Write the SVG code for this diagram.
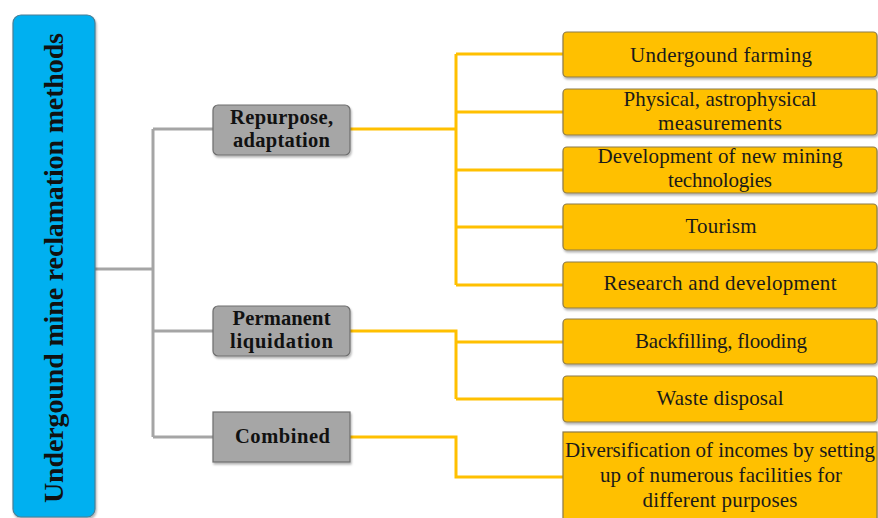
<svg xmlns="http://www.w3.org/2000/svg" width="878" height="518" viewBox="0 0 878 518">
<defs>
<filter id="sh" x="-10%" y="-10%" width="130%" height="140%">
<feDropShadow dx="1" dy="2" stdDeviation="1.2" flood-color="#000" flood-opacity="0.3"/>
</filter>
<style>
.yb{fill:#FFC000;stroke:#8C7A4A;stroke-width:1.2;filter:url(#sh)}
.gb{fill:#A6A6A6;stroke:#6E6E6E;stroke-width:1.2;filter:url(#sh)}
.bb{fill:#00B0F0;stroke:#4A7F96;stroke-width:1.2;filter:url(#sh)}
.yt{font-family:"Liberation Serif","Times New Roman",serif;font-size:21px;fill:#1a1a1a;text-anchor:middle}
.gt{font-family:"Liberation Serif","Times New Roman",serif;font-size:20.5px;font-weight:bold;fill:#111;text-anchor:middle}
.bt{font-family:"Liberation Serif","Times New Roman",serif;font-size:28px;font-weight:bold;fill:#111;text-anchor:middle}
.gl{fill:none;stroke:#A5A5A5;stroke-width:3}
.yl{fill:none;stroke:#FFC000;stroke-width:3}
</style>
</defs>
<g id="connectors">
<path class="gl" d="M95 269 H153 M153 129 V437 M153 129 H213 M153 331 H213 M153 437 H213"/>
<path class="yl" d="M350 129 H456 M456 54 V285 M456 54 H563 M456 112 H563 M456 170 H563 M456 227 H563 M456 285 H563"/>
<path class="yl" d="M350 331 H456 V399 M456 342 H563 M456 399 H563"/>
<path class="yl" d="M350 437 H456 V477 H563"/>
</g>
<g id="root">
<rect class="bb" x="13" y="15" width="82" height="502" rx="8"/>
<text class="bt" transform="translate(63,268) rotate(-90)" textLength="470">Undergound mine reclamation methods</text>
</g>
<g id="repurpose">
<rect class="gb" x="213" y="105" width="137" height="50" rx="5"/>
<text class="gt" x="281.5" y="124" textLength="103">Repurpose,</text>
<text class="gt" x="281.5" y="147" textLength="97">adaptation</text>
</g>
<g id="permanent">
<rect class="gb" x="213" y="306" width="137" height="50" rx="5"/>
<text class="gt" x="281.5" y="325" textLength="98">Permanent</text>
<text class="gt" x="281.5" y="348" textLength="103">liquidation</text>
</g>
<g id="combined">
<rect class="gb" x="213" y="412" width="137" height="50"/>
<text class="gt" x="282.5" y="443" textLength="95">Combined</text>
</g>
<g id="farming">
<rect class="yb" x="563" y="32" width="314" height="45" rx="4"/>
<text class="yt" x="721" y="62" textLength="182">Undergound farming</text>
</g>
<g id="physical">
<rect class="yb" x="563" y="89" width="314" height="46" rx="4"/>
<text class="yt" x="720" y="106" textLength="193">Physical, astrophysical</text>
<text class="yt" x="720" y="130" textLength="124">measurements</text>
</g>
<g id="development">
<rect class="yb" x="563" y="147" width="314" height="46" rx="4"/>
<text class="yt" x="720" y="163" textLength="245">Development of new mining</text>
<text class="yt" x="720" y="187" textLength="104">technologies</text>
</g>
<g id="tourism">
<rect class="yb" x="563" y="204" width="314" height="46" rx="4"/>
<text class="yt" x="721" y="233" textLength="71">Tourism</text>
</g>
<g id="research">
<rect class="yb" x="563" y="262" width="314" height="46" rx="4"/>
<text class="yt" x="720" y="290" textLength="233">Research and development</text>
</g>
<g id="backfilling">
<rect class="yb" x="563" y="319" width="314" height="45" rx="4"/>
<text class="yt" x="721" y="348" textLength="172">Backfilling, flooding</text>
</g>
<g id="waste">
<rect class="yb" x="563" y="376" width="314" height="46" rx="4"/>
<text class="yt" x="720" y="405" textLength="127">Waste disposal</text>
</g>
<g id="diversification">
<rect class="yb" x="563" y="432" width="314" height="92"/>
<text class="yt" x="720" y="457" textLength="310">Diversification of incomes by setting</text>
<text class="yt" x="721" y="482" textLength="242">up of numerous facilities for</text>
<text class="yt" x="720" y="507" textLength="155">different purposes</text>
</g>
</svg>
